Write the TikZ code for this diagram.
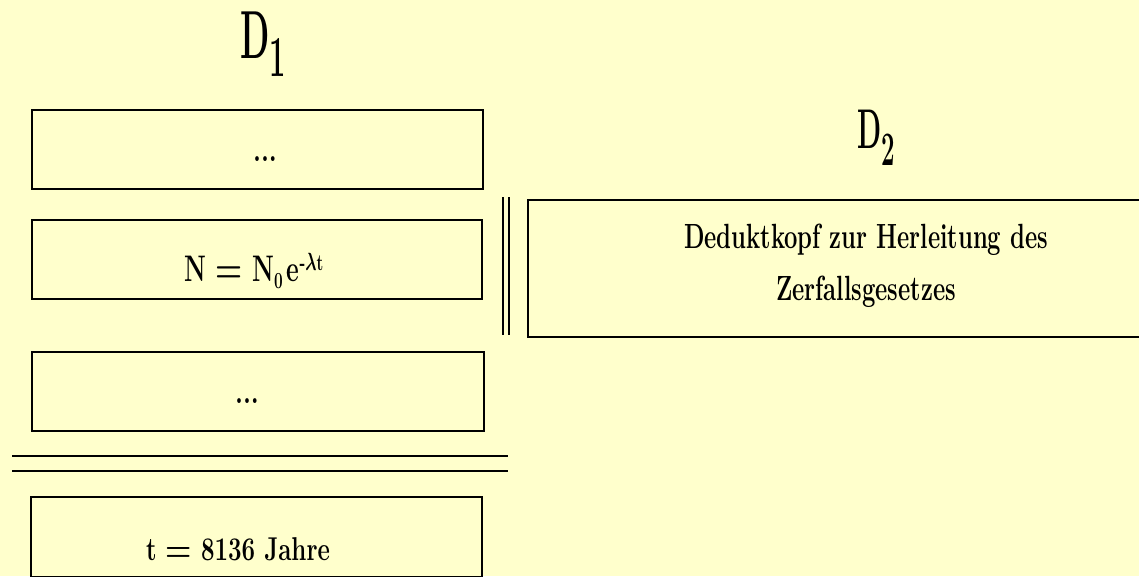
\documentclass[tikz,border=0pt]{standalone}
\usepackage{graphicx}
\definecolor{paper}{HTML}{FFFFCC}
% narrow, tall lettering
\newcommand\condense[2]{\scalebox{#1}[1]{#2}}
% a heavy equals sign
\newcommand\heq{\raisebox{-1pt}{\scalebox{1.25}[1.1]{=}}}
\tikzset{
  frame/.style={draw=black, line width=2pt, inner sep=0pt, outer sep=0pt},
  lbl/.style={inner sep=0pt, outer sep=0pt, anchor=base, text=black},
  rule/.style={draw=black, line width=2pt},
  fs/.style={font=\fontsize{#1}{#1}\selectfont\bfseries\boldmath}
}
\begin{document}
\begin{tikzpicture}[x=1pt,y=-1pt]
  \useasboundingbox (0,0) rectangle (1139,576);
  \fill[paper] (0,0) rectangle (1139,576);
  \clip (0,0) rectangle (1139,576);

  % column headings
  \node[lbl, anchor=base west, fs=68] (h1) at (240,58)
    {\condense{.5}{D\raisebox{-18pt}{\fontsize{58}{58}\selectfont 1}}};
  \node[lbl, anchor=base west, fs=56] (h2) at (857,148)
    {\condense{.5}{D\raisebox{-17pt}{\fontsize{48}{48}\selectfont 2}}};

  % left column: chain of statements
  \node[frame, minimum width=451pt, minimum height=79pt] (b1) at (257.5,149.5) {};
  \node[frame, minimum width=450pt, minimum height=79pt] (b2) at (257,259.5) {};
  \node[frame, minimum width=452pt, minimum height=79pt] (b3) at (258,391.5) {};
  \node[frame, minimum width=451pt, minimum height=80pt] (b4) at (256.5,537) {};

  \node[lbl, fs=34] (t1) at (265,161) {\condense{.75}{...}};
  \node[lbl, fs=37] (t2) at (254,281)
    {\condense{.67}{N \heq{} N\raisebox{-7pt}{\fontsize{23}{23}\selectfont 0}\,e\raisebox{11pt}{\fontsize{23}{23}\selectfont -$\lambda$t}}};
  \node[lbl, fs=34] (t3) at (247,403) {\condense{.75}{...}};
  \node[lbl, fs=33] (t4) at (238,560) {\condense{.73}{t \heq{} 8136 Jahre}};

  % conclusion separator
  \draw[rule] (12,456) -- (508,456);
  \draw[rule] (12,471) -- (508,471);

  % right column
  \draw[rule] (503,197) -- (503,335);
  \draw[rule] (509,197) -- (509,335);
  \node[frame, minimum width=672pt, minimum height=137pt] (k) at (864,268.5) {};
  \node[lbl, align=center, font=\fontsize{35}{52}\selectfont\bfseries] (kt) at (866,300)
    {\condense{.68}{Deduktkopf zur Herleitung des}\\\condense{.68}{Zerfallsgesetzes}};
\end{tikzpicture}
\end{document}
